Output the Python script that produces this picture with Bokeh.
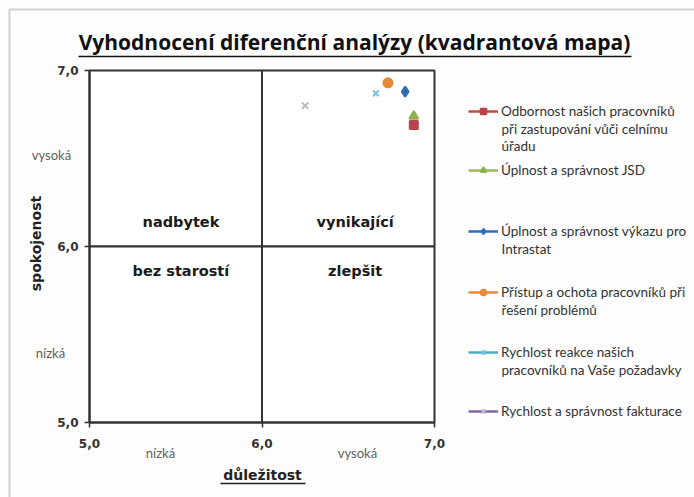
import math
from bokeh.plotting import figure
from bokeh.models import Label, Legend, LegendItem, FixedTicker, Arrow, BoxAnnotation, LinearAxis
from bokeh.embed import file_html
from bokeh.resources import INLINE

# ---- data ----
series_lines = [
    ["Odbornost našich pracovníků", "při zastupování vůči celnímu", "úřadu"],
    ["Úplnost a správnost JSD"],
    ["Úplnost a správnost výkazu pro", "Intrastat"],
    ["Přístup a ochota pracovníků při", "řešení problémů"],
    ["Rychlost reakce našich", "pracovníků na Vaše požadavky"],
    ["Rychlost a správnost fakturace"],
]
importance = [6.88, 6.88, 6.83, 6.73, 6.66, 6.25]      # důležitost
satisfaction = [6.69, 6.74, 6.88, 6.93, 6.87, 6.80]    # spokojenost
tick_values = [5.0, 6.0, 7.0]
tick_labels = ["5,0", "6,0", "7,0"]
quadrant_names = ["nadbytek", "vynikající", "bez starostí", "zlepšit"]
quadrant_x = [5.53, 6.54, 5.53, 6.54]
quadrant_y = [6.14, 6.14, 5.86, 5.86]
level_words = ["nízká", "vysoká"]
title_text = "Vyhodnocení diferenční analýzy (kvadrantová mapa)"
x_title = "důležitost"
y_title = "spokojenost"

colors = ["#BE4B48", "#9BBB59", "#2F6DB5", "#F08A3C", "#4BACC6", "#7E68A6"]
marker_colors = ["#B8434A", "#8DB04E", "#2F6DB5", "#E8893A", "#79C1DA", "#BDB8C8"]
markers = ["square", "triangle", "diamond", "circle", "x", "x"]
sizes = [8, 9, 10, 9, 8, 9]

W, H = 694, 497
# pixel positions of the value box (5..7 on both axes)
BL, BR, BT, BB = 89, 434, 70, 422
PXX = (BR - BL) / 2.0
PXY = (BB - BT) / 2.0


def dx(px):
    return 5 + (px - BL) / PXX


def dy(py):
    return 5 + (BB - py) / PXY


p = figure(width=W, height=H, x_range=(dx(0), dx(W)), y_range=(dy(H), dy(0)),
           output_backend="svg", toolbar_location=None, title=None,
           x_axis_location=None, y_axis_location=None,
           min_border=0, min_border_left=0, min_border_right=0,
           min_border_top=0, min_border_bottom=0)
p.outline_line_color = None
p.background_fill_color = "#fdfdfd"
p.border_fill_color = "#fdfdfd"
p.grid.visible = False

# outer chart-area border
p.add_layout(BoxAnnotation(left=dx(9), top=dy(9), right=dx(W + 40), bottom=dy(H + 40),
                           fill_color=None, line_color="#6a6a6a", line_width=2, level="underlay"))
# four quadrants of the value box
for (l, r, b, t) in [(5, 6, 6, 7), (6, 7, 6, 7), (5, 6, 5, 6), (6, 7, 5, 6)]:
    p.add_layout(BoxAnnotation(left=l, right=r, bottom=b, top=t, fill_color="white",
                               fill_alpha=1, line_color="#333333", line_width=2,
                               line_alpha=1, level="underlay"))

xaxis = LinearAxis(fixed_location=5.0)
yaxis = LinearAxis(fixed_location=5.0)
p.add_layout(xaxis, "below")
p.add_layout(yaxis, "left")
for ax in (xaxis, yaxis):
    ax.bounds = (5.0, 7.0)
    ax.ticker = FixedTicker(ticks=tick_values)
    ax.major_label_overrides = {v: l for v, l in zip(tick_values, tick_labels)}
    ax.major_label_text_font = "DejaVu Sans"
    ax.major_label_text_font_style = "bold"
    ax.major_label_text_font_size = "12px"
    ax.major_label_text_color = "#333333"
    ax.major_tick_in = 0
    ax.major_tick_out = 5
    ax.major_tick_line_color = "#333333"
    ax.major_tick_line_width = 1.5
    ax.minor_tick_line_color = None
    ax.axis_line_color = "#333333"
    ax.axis_line_width = 2
xaxis.major_label_standoff = 11
yaxis.major_label_standoff = 6

for name, qx, qy in zip(quadrant_names, quadrant_x, quadrant_y):
    p.add_layout(Label(x=qx, y=qy, text=name, text_align="center", text_baseline="middle",
                       text_font="DejaVu Sans", text_font_style="bold",
                       text_font_size="14.5px", text_color="#1a1a1a"))

# level words beside axes
for txt, px, py in [(level_words[0], 160, 452), (level_words[1], 357, 452),
                    (level_words[1], 51, 154), (level_words[0], 50, 352)]:
    p.add_layout(Label(x=dx(px), y=dy(py), text=txt, text_align="center",
                       text_baseline="middle", text_font="Lato", text_font_size="13px",
                       text_color="#606060"))

# axis titles
p.add_layout(Label(x=dx(262), y=dy(474), text=x_title, text_align="center",
                   text_baseline="middle", text_font="DejaVu Sans", text_font_style="bold",
                   text_font_size="14px", text_color="#222222"))
p.add_layout(Arrow(end=None, x_start=dx(220), y_start=dy(483), x_end=dx(305), y_end=dy(483),
                   line_color="#222222", line_width=1.3))
p.add_layout(Label(x=dx(35), y=dy(243), text=y_title, angle=math.pi / 2, text_align="center",
                   text_baseline="middle", text_font="DejaVu Sans", text_font_style="bold",
                   text_font_size="14px", text_color="#222222"))

# chart title
p.add_layout(Label(x=dx(354), y=dy(41), text=title_text,
                   text_align="center", text_baseline="middle", text_font="Open Sans",
                   text_font_style="bold", text_font_size="21px", text_color="#111111"))
p.add_layout(Arrow(end=None, x_start=dx(78), y_start=dy(56), x_end=dx(631), y_end=dy(56),
                   line_color="#111111", line_width=1.6))

legend_y = [112, 171, 232, 293, 353, 412]
line_gap = 16.5
for i in range(len(series_lines)):
    ln = p.line(x=[importance[i]], y=[satisfaction[i]], line_color=colors[i], line_width=2.5)
    sc = p.scatter(x=[importance[i]], y=[satisfaction[i]], marker=markers[i], size=sizes[i],
                   fill_color=marker_colors[i], line_color=marker_colors[i], line_width=2)
    lg = Legend(items=[LegendItem(label=series_lines[i][0], renderers=[ln, sc])],
                location=(468, H - legend_y[i] - 7),
                padding=0, margin=0, spacing=0, border_line_color=None,
                background_fill_alpha=0, glyph_width=30, glyph_height=14,
                label_height=14, label_standoff=3, label_text_font="Lato",
                label_text_font_size="13.5px", label_text_color="#333333")
    p.add_layout(lg)
    for k, extra in enumerate(series_lines[i][1:]):
        p.add_layout(Label(x=dx(501), y=dy(legend_y[i] + line_gap * (k + 1)), text=extra,
                           text_align="left", text_baseline="middle", text_font="Lato",
                           text_font_size="13.5px", text_color="#333333"))

open("out.html", "w").write(file_html(p, INLINE))
